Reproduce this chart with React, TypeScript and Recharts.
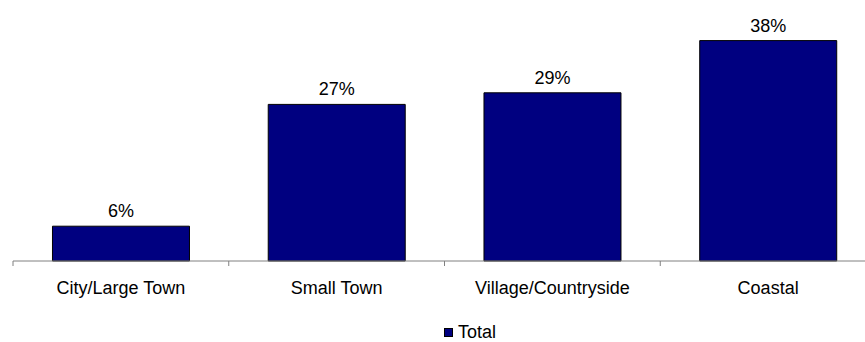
import React from 'react';
import { BarChart, Bar, XAxis, YAxis, Legend, LabelList } from 'recharts';

const categories = ['City/Large Town', 'Small Town', 'Village/Countryside', 'Coastal'];
const totals = [6, 27, 29, 38];
const seriesName = 'Total';
const yDomain = [0, 40];

const data = categories.map((c, i) => ({ category: c, total: totals[i] }));

const FONT = '"Liberation Sans", Arial, sans-serif';
const AXIS_COLOR = '#808080';
const TICK_SIZE = 5;
const TICK_MARGIN = 15;

const CategoryTick = (props: any) => {
  const { x, y, payload } = props;
  const half = payload && typeof payload.offset === 'number' ? payload.offset : 0;
  const axisY = y - TICK_SIZE - TICK_MARGIN;
  return (
    <g>
      <line x1={x - half} x2={x - half} y1={axisY} y2={axisY + TICK_SIZE} stroke={AXIS_COLOR} strokeWidth={1} />
      <text x={x} y={y} dy="0.71em" textAnchor="middle" fontFamily={FONT} fontSize={18} fill="#000">
        {payload.value}
      </text>
    </g>
  );
};

const LegendContent = (props: any) => {
  const { payload } = props;
  return (
    <div style={{ display: 'flex', alignItems: 'center', fontFamily: FONT, fontSize: 18, lineHeight: '20px', color: '#000', whiteSpace: 'nowrap' }}>
      {(payload || []).map((e: any) => (
        <span key={e.value} style={{ display: 'inline-flex', alignItems: 'center' }}>
          <span style={{ display: 'inline-block', width: 7, height: 7, background: e.color, border: '1px solid #000', marginRight: 5 }} />
          {e.value}
        </span>
      ))}
    </div>
  );
};

export default function App() {
  return (
    <div style={{ position: 'fixed', left: 0, top: 0, width: 865, height: 342, overflow: 'hidden', background: '#fff' }}>
      <BarChart
        width={880}
        height={342}
        data={data}
        margin={{ top: 29, right: 4, bottom: 31, left: 13 }}
        barCategoryGap="18.3%"
      >
        <XAxis
          dataKey="category"
          axisLine={{ stroke: AXIS_COLOR, strokeWidth: 1 }}
          tickLine={false}
          tickSize={TICK_SIZE}
          tickMargin={TICK_MARGIN}
          tick={<CategoryTick />}
          interval={0}
          height={30}
        />
        <YAxis hide domain={yDomain} />
        <Legend
          content={<LegendContent />}
          verticalAlign="bottom"
          wrapperStyle={{ position: 'absolute', top: 322, left: 444, bottom: 'auto', width: 'auto' }}
        />
        <Bar dataKey="total" name={seriesName} fill="#000080" stroke="#000000" strokeWidth={1} isAnimationActive={false}>
          <LabelList
            dataKey="total"
            position="top"
            offset={9}
            formatter={(v: any) => `${v}%`}
            style={{ fontFamily: FONT, fontSize: 18, fill: '#000' }}
          />
        </Bar>
      </BarChart>
    </div>
  );
}
